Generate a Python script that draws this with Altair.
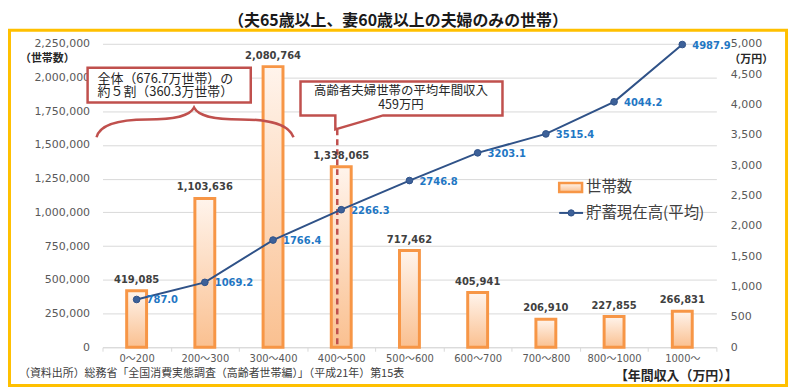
import altair as alt
import pandas as pd

# ---- data ----
categories = ["0～200", "200～300", "300～400", "400～500", "500～600",
              "600～700", "700～800", "800～1000", "1000～"]
households = [419085, 1103636, 2080764, 1338065, 717462, 405941, 206910, 227855, 266831]
savings = [787.0, 1069.2, 1766.4, 2266.3, 2746.8, 3203.1, 3515.4, 4044.2, 4987.9]
left_ticks = [0, 250000, 500000, 750000, 1000000, 1250000, 1500000, 1750000, 2000000, 2250000]
right_ticks = [0, 500, 1000, 1500, 2000, 2500, 3000, 3500, 4000, 4500, 5000]
income_marker_category = ["400～500"]

title_text = "（夫65歳以上、妻60歳以上の夫婦のみの世帯）"
left_title = "（世帯数）"
right_title = "（万円）"
x_title = "【年間収入（万円）】"
source_text = "（資料出所）総務省「全国消費実態調査（高齢者世帯編）」（平成21年）第15表"
callout1_lines = ["全体（676.7万世帯）の", "約５割（360.3万世帯）"]
callout2_lines = ["高齢者夫婦世帯の平均年間収入", "459万円"]
legend_labels = ["世帯数", "貯蓄現在高(平均)"]

# ---- layout ----
JP = "Noto Sans CJK JP"
NUM = "DejaVu Sans"
W, H = 617, 305
OX, OY = 103, 43          # page position of the plot origin


def px(x):
    return x - OX


def py(y):
    return y - OY


RED = "#C0504D"
ORANGE = "#F79646"
NAVY = "#2F5288"
BLUE_TXT = "#1F77C4"

df = pd.DataFrame({"cat": categories, "hh": households, "sv": savings})
one = pd.DataFrame({"k": [0]})

x_enc = alt.X(
    "cat:N", sort=categories,
    scale=alt.Scale(paddingInner=0, paddingOuter=0),
    axis=alt.Axis(title=None, labelAngle=0, labelFont=NUM + ", " + JP, labelFontSize=10,
                  labelColor="#595959", domainColor="#D9D9D9", domainWidth=1,
                  tickColor="#D9D9D9", tickBand="extent", tickSize=4, labelPadding=2),
)

y_left = alt.Y(
    "hh:Q", scale=alt.Scale(domain=[0, 2250000], nice=False),
    axis=alt.Axis(values=left_ticks, format=",d", title=None, grid=True, gridColor="#D9D9D9",
                  gridWidth=1, domain=False, ticks=False, labelFont=NUM, labelFontSize=11,
                  labelColor="#595959", labelPadding=13),
)

y_right = alt.Y(
    "sv:Q", scale=alt.Scale(domain=[0, 5000], nice=False),
    axis=alt.Axis(orient="right", values=right_ticks, format=",d", title=None, grid=False,
                  domain=False, ticks=False, labelFont=NUM, labelFontSize=11,
                  labelColor="#595959", labelPadding=14, labelAlign="left"),
)

bar_fill = alt.Gradient(
    gradient="linear",
    stops=[alt.GradientStop(color="#FFF4EC", offset=0),
           alt.GradientStop(color="#FAC090", offset=1)],
    x1=0, x2=0, y1=0, y2=1,
)

base = alt.Chart(df)

bars = base.mark_bar(size=20, fill=bar_fill, stroke=ORANGE, strokeWidth=3).encode(x=x_enc, y=y_left)
bar_labels = base.mark_text(font=NUM, fontSize=10, fontWeight="bold", color="#404040",
                            baseline="middle", dy=-11).encode(
    x=x_enc, y=y_left, text=alt.Text("hh:Q", format=",d"))

dashed = alt.Chart(pd.DataFrame({"cat": income_marker_category})).mark_rule(
    color=RED, strokeWidth=2.5, strokeDash=[6, 4], xOffset=-4).encode(
    x=x_enc, y=alt.value(py(129)), y2=alt.value(py(348)))

left = alt.layer(bars, dashed, bar_labels)

line = base.mark_line(color=NAVY, strokeWidth=2).encode(x=x_enc, y=y_right)
pts = base.mark_point(filled=True, size=45, fill="#3D6199", stroke=NAVY, strokeWidth=1,
                      opacity=1).encode(x=x_enc, y=y_right)
line_labels = base.mark_text(font=NUM, fontSize=10, fontWeight="bold", color=BLUE_TXT,
                             align="left", baseline="middle", dx=10, dy=1).encode(
    x=x_enc, y=y_right, text=alt.Text("sv:Q", format=".1f"))

right = alt.layer(line, pts, line_labels)

# ---- decorations ----
frame = alt.Chart(one).mark_rect(fill="transparent", stroke="#FFC000", strokeWidth=3).encode(
    x=alt.value(px(9.5)), x2=alt.value(px(790.5)), y=alt.value(py(29.5)), y2=alt.value(py(386.5)))


def text_at(t, x, y, size, weight="normal", align="left", color="#262626", font=JP, lh=None):
    kw = {}
    if lh is not None:
        kw["lineHeight"] = lh
    return alt.Chart(one).mark_text(text=t, font=font, fontSize=size, fontWeight=weight,
                                    align=align, baseline="middle", color=color, **kw).encode(
        x=alt.value(px(x)), y=alt.value(py(y)))


title = text_at(title_text, 400, 20, 16, "bold", "center", "#1A1A1A")
lt = text_at(left_title, 20, 58, 11, "bold", "left", "#262626")
rt = text_at(right_title, 733, 59, 11, "bold", "left", "#262626")
xt = text_at(x_title, 618, 377, 13, "bold", "left", "#262626")
src = text_at(source_text, 19, 375, 11, "normal", "left", "#404040")

box1 = alt.Chart(one).mark_rect(fill="white", stroke=RED, strokeWidth=2.5).encode(
    x=alt.value(px(88)), x2=alt.value(px(252)), y=alt.value(py(67)), y2=alt.value(py(102)))
c1 = text_at(callout1_lines, 98, 78, 13, lh=13)

brace_path = ("M -6 94 C -3 81 15 76 45 76 C 75 76 88 72 92 64 "
              "C 96 72 109 76 139 76 C 169 76 187 81 192 94")
brace = alt.Chart(one).mark_point(shape=brace_path, size=4, filled=False, stroke=RED,
                                  strokeWidth=2.5, opacity=1).encode(
    x=alt.value(0), y=alt.value(0))

callout2_path = "M 199 38 L 402 38 L 402 72 L 282 72 L 234 86 L 234 72 L 199 72 Z"
callout2 = alt.Chart(one).mark_point(shape=callout2_path, size=4, filled=True, fill="white",
                                     stroke=RED, strokeWidth=2.5, opacity=1).encode(
    x=alt.value(0), y=alt.value(0))
c2 = text_at(callout2_lines, 403, 90, 12.5, align="center", lh=15)

leg_rect = alt.Chart(one).mark_rect(fill=bar_fill, stroke=ORANGE, strokeWidth=2.5).encode(
    x=alt.value(px(562)), x2=alt.value(px(585)), y=alt.value(py(183)), y2=alt.value(py(192)))
leg_line = alt.Chart(one).mark_rule(color=NAVY, strokeWidth=2).encode(
    x=alt.value(px(562)), x2=alt.value(px(586)), y=alt.value(py(213)))
leg_pt = alt.Chart(one).mark_point(filled=True, size=40, fill="#3D6199", stroke=NAVY,
                                   strokeWidth=1, opacity=1).encode(
    x=alt.value(px(574)), y=alt.value(py(213)))
leg_t1 = text_at(legend_labels[0], 589, 187, 15.5, color="#404040")
leg_t2 = text_at(legend_labels[1], 589, 213, 15.5, color="#404040")

chart = alt.layer(
    frame, left, right,
    box1, c1, brace, callout2, c2,
    leg_rect, leg_line, leg_pt, leg_t1, leg_t2,
    title, lt, rt, xt, src,
).resolve_scale(y="independent").properties(
    width=W, height=H,
    padding={"left": 95, "top": 35, "right": 76, "bottom": 43},
    autosize=alt.AutoSizeParams(type="none"),
    background="white",
).configure_view(stroke="transparent")

chart.save("out.html", embed_options={"renderer": "svg", "actions": False})
